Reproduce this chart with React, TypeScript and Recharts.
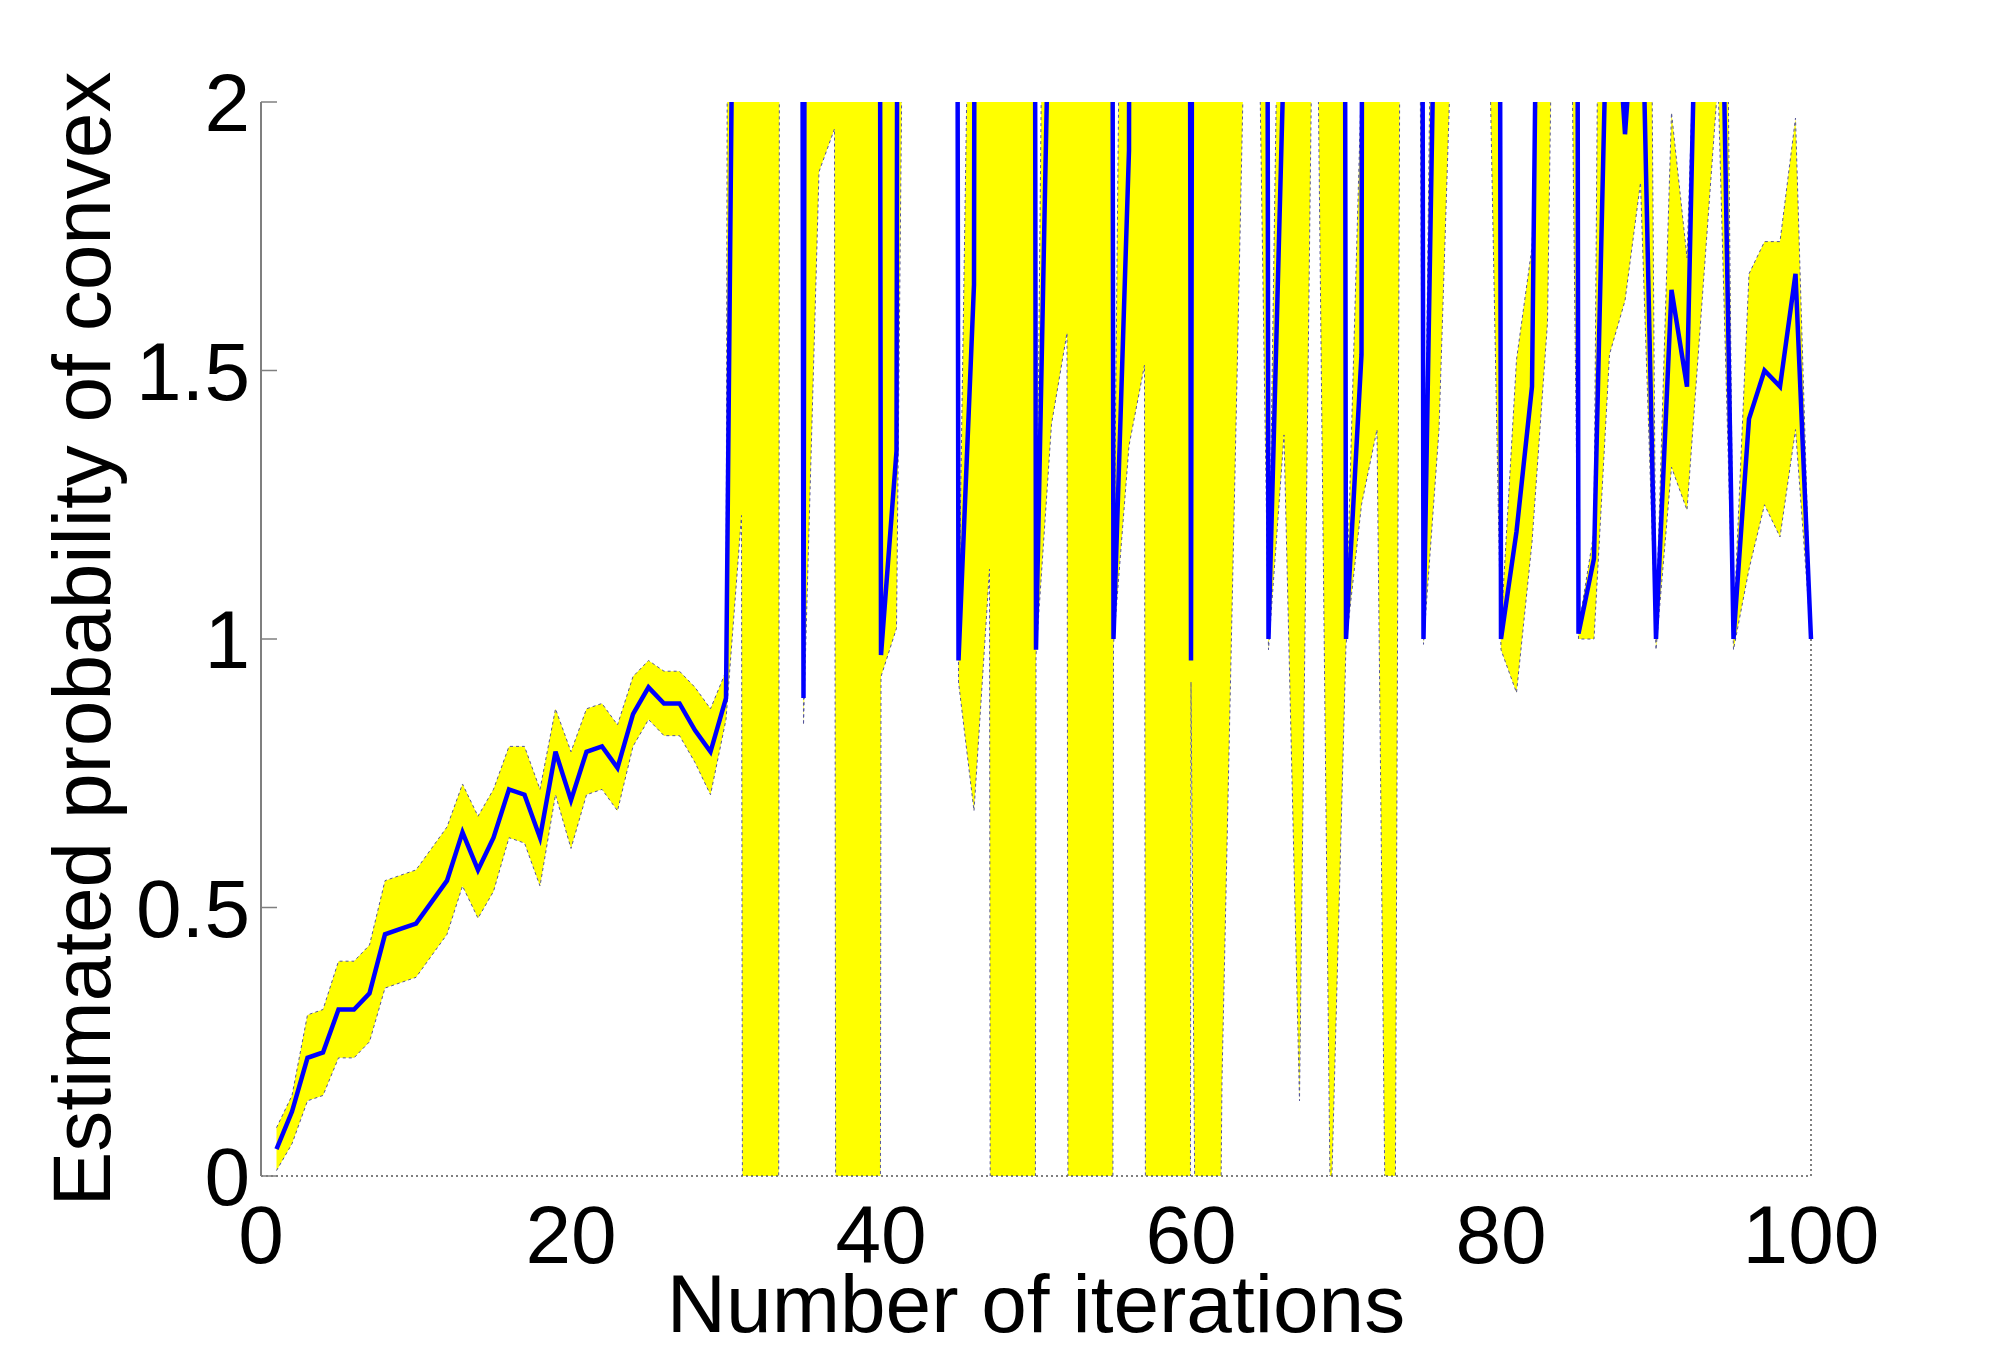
import { ComposedChart, Area, Line, XAxis, YAxis, ReferenceLine } from 'recharts';

// estimated value per iteration (values far outside 0..2 run off the plot)
const meanEstimate = [
  0.05, 0.12, 0.22, 0.23, 0.31, 0.31, 0.34, 0.45, 0.46, 0.47,
  0.51, 0.55, 0.64, 0.57, 0.63, 0.72, 0.71, 0.63, 0.79, 0.7,
  0.79, 0.8, 0.76, 0.86, 0.91, 0.88, 0.88, 0.83, 0.79, 0.89,
  4.0, 20, 20, 20, 0.89, 20, 20, 20, 20, 0.97,
  1.35, 20, 20, 20, 0.96, 1.66, 20, 20, 20, 0.98,
  2.45, 20, 20, 20, 1.0, 1.91, 20, 20, 20, 0.96,
  20, 20, 20, 20, 1.0, 2.1, 20, 20, 20, 1.0,
  1.53, 20, 20, 20, 1.0, 2.7, 20, 20, 20, 1.0,
  1.2, 1.47, 4.1, 20, 1.01, 1.15, 2.4, 1.94, 2.35, 1.0,
  1.65, 1.47, 2.8, 2.7, 1.0, 1.41, 1.5, 1.47, 1.68, 1.0,
];

const lowerBound = [
  0.01, 0.06, 0.14, 0.15, 0.22, 0.22, 0.25, 0.35, 0.36, 0.37,
  0.41, 0.45, 0.54, 0.48, 0.53, 0.63, 0.62, 0.54, 0.71, 0.61,
  0.71, 0.72, 0.68, 0.8, 0.85, 0.82, 0.82, 0.77, 0.71, 0.85,
  1.23, -20, -20, 30, 0.84, 1.87, 1.95, -25, -25, 0.93,
  1.02, 4.0, 20, 20, 0.92, 0.68, 1.13, -25, -25, 0.97,
  1.4, 1.57, -25, -25, 0.99, 1.36, 1.51, -25, -25, 0.92,
  -3.0, 0.18, 1.53, 2.9, 0.98, 1.38, 0.14, 2.6, -0.1, 0.99,
  1.25, 1.39, -1.4, 6.0, 0.99, 1.39, 2.3, 3.0, 2.5, 0.98,
  0.9, 1.18, 1.59, 3.6, 1.0, 1.0, 1.53, 1.63, 1.85, 0.98,
  1.32, 1.24, 1.64, 2.04, 0.98, 1.13, 1.25, 1.19, 1.39, 1.0,
];

const upperBound = [
  0.09, 0.15, 0.3, 0.31, 0.4, 0.4, 0.43, 0.55, 0.56, 0.57,
  0.61, 0.65, 0.73, 0.67, 0.72, 0.8, 0.8, 0.72, 0.87, 0.79,
  0.87, 0.88, 0.84, 0.93, 0.96, 0.94, 0.94, 0.91, 0.87, 0.94,
  15, 20, 20, 40, 0.95, 30, 30, 30, 30, 25,
  25, 30, 30, 30, 1.0, 2.9, 30, 30, 30, 1.0,
  4.0, 30, 30, 30, 1.02, 4.0, 30, 30, 30, 25,
  30, 30, 30, 30, 1.02, 3.0, 30, 30, 30, 1.02,
  2.05, 30, 30, 30, 1.02, 3.5, 30, 30, 30, 1.02,
  1.52, 1.73, 2.6, 30, 1.02, 1.2, 5, 5, 5, 1.03,
  1.98, 1.71, 2.6, 4, 1.02, 1.68, 1.74, 1.74, 1.97, 1.0,
];

const xTicks = [0, 20, 40, 60, 80, 100];
const yTicks = [0, 0.5, 1, 1.5, 2];

const FONT = '"Liberation Sans", Arial, Helvetica, sans-serif';

const data = meanEstimate.map((m, i) => ({
  iteration: i + 1,
  mean: m,
  band: [lowerBound[i], upperBound[i]],
}));

const lastIter = data[data.length - 1];

function YTick({ x, y, payload }: any) {
  return (
    <g>
      <line x1={x + 11} x2={x + 27} y1={y} y2={y} stroke="#7f7f7f" strokeWidth={1.5} />
      <text x={x} y={y} dy={29} textAnchor="end" fontSize={82} fontFamily={FONT} fill="#000">
        {payload.value}
      </text>
    </g>
  );
}

function XTick({ x, y, payload }: any) {
  return (
    <text x={x} y={y + 87} textAnchor="middle" fontSize={82} fontFamily={FONT} fill="#000">
      {payload.value}
    </text>
  );
}

function YLabel({ viewBox }: any) {
  const cx = viewBox.x + 110;
  const cy = viewBox.y + viewBox.height / 2;
  return (
    <text
      x={cx}
      y={cy}
      transform={`rotate(-90, ${cx}, ${cy})`}
      textAnchor="middle"
      fontSize={82}
      fontFamily={FONT}
      fill="#000"
    >
      Estimated probability of convex
    </text>
  );
}

function XLabel({ viewBox }: any) {
  return (
    <text
      x={viewBox.x + viewBox.width / 2}
      y={viewBox.y + 156}
      textAnchor="middle"
      fontSize={82}
      fontFamily={FONT}
      fill="#000"
    >
      Number of iterations
    </text>
  );
}

export default function App() {
  return (
    <div style={{ position: 'absolute', left: 0, top: 0, width: 2000, height: 1353, background: '#fff' }}>
      <ComposedChart
        width={2000}
        height={1353}
        data={data}
        margin={{ top: 102, right: 189, left: 0, bottom: 0 }}
      >
        <XAxis
          dataKey="iteration"
          type="number"
          domain={[0, 100]}
          ticks={xTicks}
          height={177}
          tickSize={0}
          tickMargin={0}
          tickLine={false}
          axisLine={{ stroke: '#555', strokeWidth: 1.5, strokeDasharray: '2 3' }}
          tick={(p: any) => <XTick {...p} />}
          label={(p: any) => <XLabel {...p} />}
        />
        <YAxis
          type="number"
          domain={[0, 2]}
          allowDataOverflow
          ticks={yTicks}
          width={261}
          tickSize={0}
          tickMargin={11}
          tickLine={false}
          axisLine={{ stroke: '#7f7f7f', strokeWidth: 2 }}
          tick={(p: any) => <YTick {...p} />}
          label={(p: any) => <YLabel {...p} />}
        />
        <Area
          type="linear"
          dataKey="band"
          fill="#ffff00"
          fillOpacity={1}
          stroke="#55559a"
          strokeWidth={1}
          strokeDasharray="3 3"
          dot={false}
          activeDot={false}
          isAnimationActive={false}
        />
        <ReferenceLine
          segment={[
            { x: lastIter.iteration, y: 0 },
            { x: lastIter.iteration, y: lastIter.mean },
          ]}
          stroke="#555"
          strokeWidth={1.5}
          strokeDasharray="2 3"
        />
        <Line
          type="linear"
          dataKey="mean"
          stroke="#0000ff"
          strokeWidth={4.5}
          dot={false}
          activeDot={false}
          isAnimationActive={false}
        />
      </ComposedChart>
    </div>
  );
}
